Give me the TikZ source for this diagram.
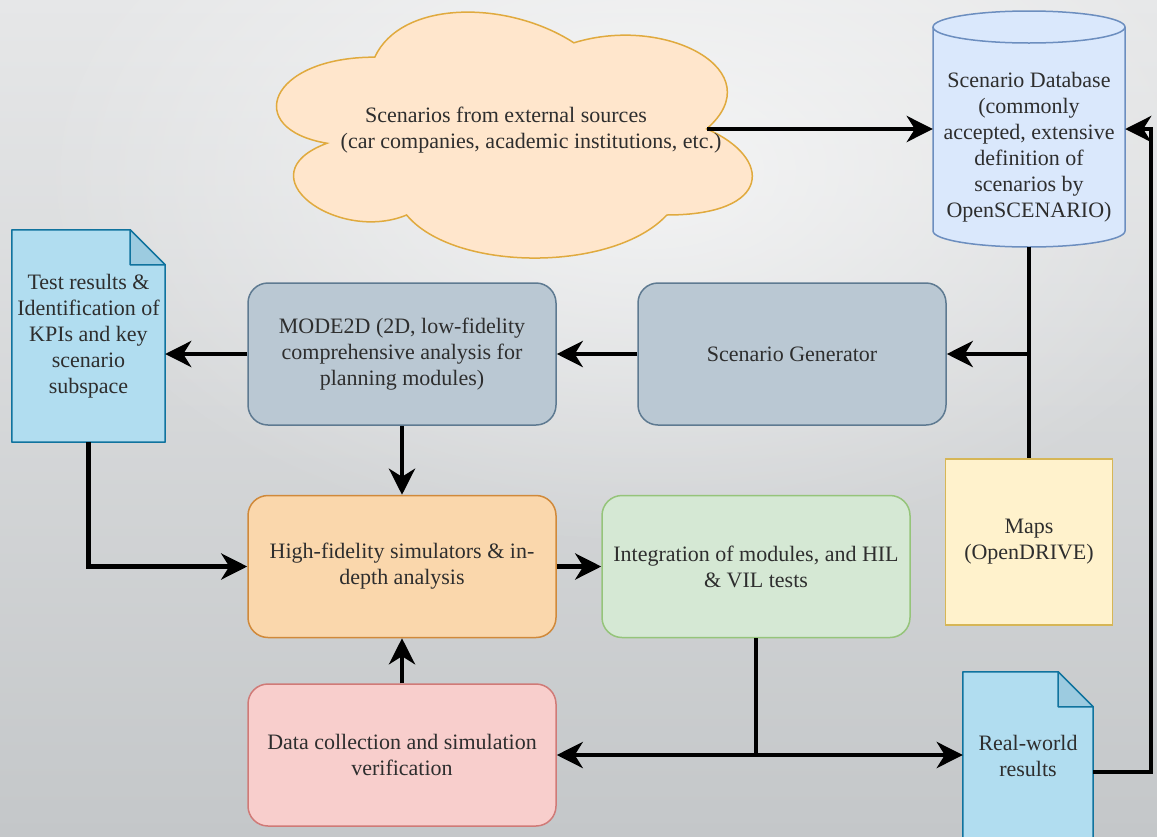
\documentclass[tikz,border=0pt]{standalone}
\usepackage{fontspec}
\newfontfamily\dfont{Liberation Serif}
\usetikzlibrary{arrows.meta,calc,fadings}
\pgfdeclarelayer{back}
\pgfdeclarelayer{mid}
\pgfsetlayers{back,mid,main}
\tikzfading[name=glow, inner color=transparent!0, outer color=transparent!100]
\definecolor{cloudfill}{HTML}{FFE6CC}
\definecolor{cloudline}{HTML}{E0AA3E}
\definecolor{dbfill}{HTML}{DAE8FC}
\definecolor{dbline}{HTML}{6C8EBF}
\definecolor{docfill}{HTML}{B1DDF0}
\definecolor{docline}{HTML}{10739E}
\definecolor{docfold}{HTML}{9CCBE0}
\definecolor{grayfill}{HTML}{BAC8D3}
\definecolor{grayline}{HTML}{5E7A91}
\definecolor{orfill}{HTML}{FAD7AC}
\definecolor{orline}{HTML}{D0893A}
\definecolor{grfill}{HTML}{D5E8D4}
\definecolor{grline}{HTML}{95C47A}
\definecolor{yefill}{HTML}{FFF2CC}
\definecolor{yeline}{HTML}{D6B656}
\definecolor{refill}{HTML}{F8CECC}
\definecolor{reline}{HTML}{D07A77}
\definecolor{txtcol}{HTML}{2E2E2E}
\definecolor{bgtop}{HTML}{E6E7E8}
\definecolor{bgbot}{HTML}{C4C7C9}
\begin{document}
\begin{tikzpicture}[x=1pt,y=-1pt,
  txt/.style={font=\dfont\fontsize{22pt}{26pt}\selectfont, text=txtcol, align=center, inner sep=2pt},
  box/.style={txt, draw, line width=1.5pt, rounded corners=20pt, minimum width=308pt, minimum height=142pt},
  conn/.style={line width=4.5pt, -{Stealth[length=26pt,width=26pt,inset=8pt]}},
  plain/.style={line width=4.5pt},
  docst/.style={fill=docfill, draw=docline, line width=1.5pt, line join=round},
  foldst/.style={fill=docfold, draw=docline, line width=1.5pt, line join=round}]
\useasboundingbox (0,0) rectangle (1157,836);
\begin{pgfonlayer}{back}
  \shade[top color=bgtop, bottom color=bgbot] (0,0) rectangle (1157,836);
  \fill[white, path fading=glow, fill opacity=0.65] (650,170) ellipse [x radius=620pt, y radius=380pt];
\end{pgfonlayer}

% cloud
\begin{pgfonlayer}{mid}
\begin{scope}[xshift=242pt, yshift=14.6pt, x=531pt, y=-287pt]
  \draw[fill=cloudfill, draw=cloudline, line width=1.5pt]
    (0.25,0.25) .. controls (0.05,0.25) and (0,0.5) .. (0.16,0.55)
    .. controls (0,0.66) and (0.18,0.9) .. (0.31,0.8)
    .. controls (0.4,1) and (0.7,1) .. (0.8,0.8)
    .. controls (1,0.8) and (1,0.6) .. (0.875,0.5)
    .. controls (1,0.3) and (0.8,0.1) .. (0.625,0.2)
    .. controls (0.5,0.05) and (0.3,0.05) .. (0.25,0.25) -- cycle;
\end{scope}
\end{pgfonlayer}
\node[txt] (cloudtxt) at (506,130) {Scenarios from external sources\\\hspace*{50pt}(car companies, academic institutions, etc.)};
\coordinate (cloudE) at (707,129);

% database cylinder
\node[minimum width=192pt, minimum height=236pt, inner sep=0pt] (db) at (1029,129) {};
\begin{pgfonlayer}{mid}
  \draw[fill=dbfill, draw=dbline, line width=1.5pt]
    (933,27) -- (933,231) arc[start angle=180, end angle=360, x radius=96pt, y radius=16pt]
    -- (1125,27) arc[start angle=0, end angle=180, x radius=96pt, y radius=16pt] -- cycle;
  \draw[draw=dbline, line width=1.5pt] (933,27) arc[start angle=180, end angle=360, x radius=96pt, y radius=16pt];
\end{pgfonlayer}
\node[txt] (dbtxt) at (1029,147) {Scenario Database\\(commonly\\accepted, extensive\\definition of\\scenarios by\\OpenSCENARIO)};

% test results document
\node[txt, minimum width=153pt, minimum height=212pt] (tr) at (88.5,336) {Test results \&\\Identification of\\KPIs and key\\scenario\\subspace};
\begin{pgfonlayer}{mid}
  \draw[docst] (tr.north west) -- ([xshift=-35pt]tr.north east) -- ([yshift=-35pt]tr.north east) -- (tr.south east) -- (tr.south west) -- cycle;
  \draw[foldst] ([xshift=-35pt]tr.north east) -- ([xshift=-35pt,yshift=-35pt]tr.north east) -- ([yshift=-35pt]tr.north east) -- cycle;
\end{pgfonlayer}

% real-world results document
\node[txt, minimum width=130pt, minimum height=168pt] (rw) at (1028,756) {Real-world\\results};
\begin{pgfonlayer}{mid}
  \begin{scope}
  \clip (0,0) rectangle (1157,836);
  \draw[docst] (rw.north west) -- ([xshift=-35pt]rw.north east) -- ([yshift=-35pt]rw.north east) -- (rw.east |- 0,900) -- (rw.west |- 0,900) -- cycle;
  \draw[foldst] ([xshift=-35pt]rw.north east) -- ([xshift=-35pt,yshift=-35pt]rw.north east) -- ([yshift=-35pt]rw.north east) -- cycle;
  \end{scope}
\end{pgfonlayer}

% boxes
\node[box, fill=grayfill, draw=grayline] (mode) at (402,354) {MODE2D (2D, low-fidelity\\comprehensive analysis for\\planning modules)};
\node[box, fill=grayfill, draw=grayline] (sg) at (792,354) {Scenario Generator};
\node[box, fill=orfill, draw=orline] (hf) at (402,566.5) {High-fidelity simulators \& in-\\depth analysis};
\node[box, fill=grfill, draw=grline] (integ) at (756,566.5) {Integration of modules, and HIL\\\& VIL tests};
\node[box, fill=refill, draw=reline] (dc) at (402,755) {Data collection and simulation\\verification};
\node[txt, fill=yefill, draw=yeline, line width=1.5pt, minimum width=167pt, minimum height=166pt] (maps) at (1029,542) {Maps\\(OpenDRIVE)};

% connectors
\coordinate (loopR) at (1151,772);
\draw[conn] (cloudE) -- (db.west);
\draw[conn] ([yshift=-16pt]rw.east) -- (loopR) |- (db.east);
\draw[plain] (db.south) -- (maps.north);
\coordinate (j1) at (db.south |- sg.east);
\draw[conn] (j1) -- (sg.east);
\draw[conn] (sg.west) -- (mode.east);
\draw[conn] (mode.west) -- (mode.west -| tr.east);
\draw[conn] (mode.south) -- (hf.north);
\draw[conn] (tr.south) |- (hf.west);
\draw[conn] (hf.east) -- (integ.west);
\draw[conn] (dc.north) -- (hf.south);
\coordinate (j2) at (integ.south |- dc.east);
\draw[plain] (integ.south) -- (j2);
\draw[conn] (j2) -- (dc.east);
\draw[conn] (j2) -- (j2 -| rw.west);
\end{tikzpicture}
\end{document}
